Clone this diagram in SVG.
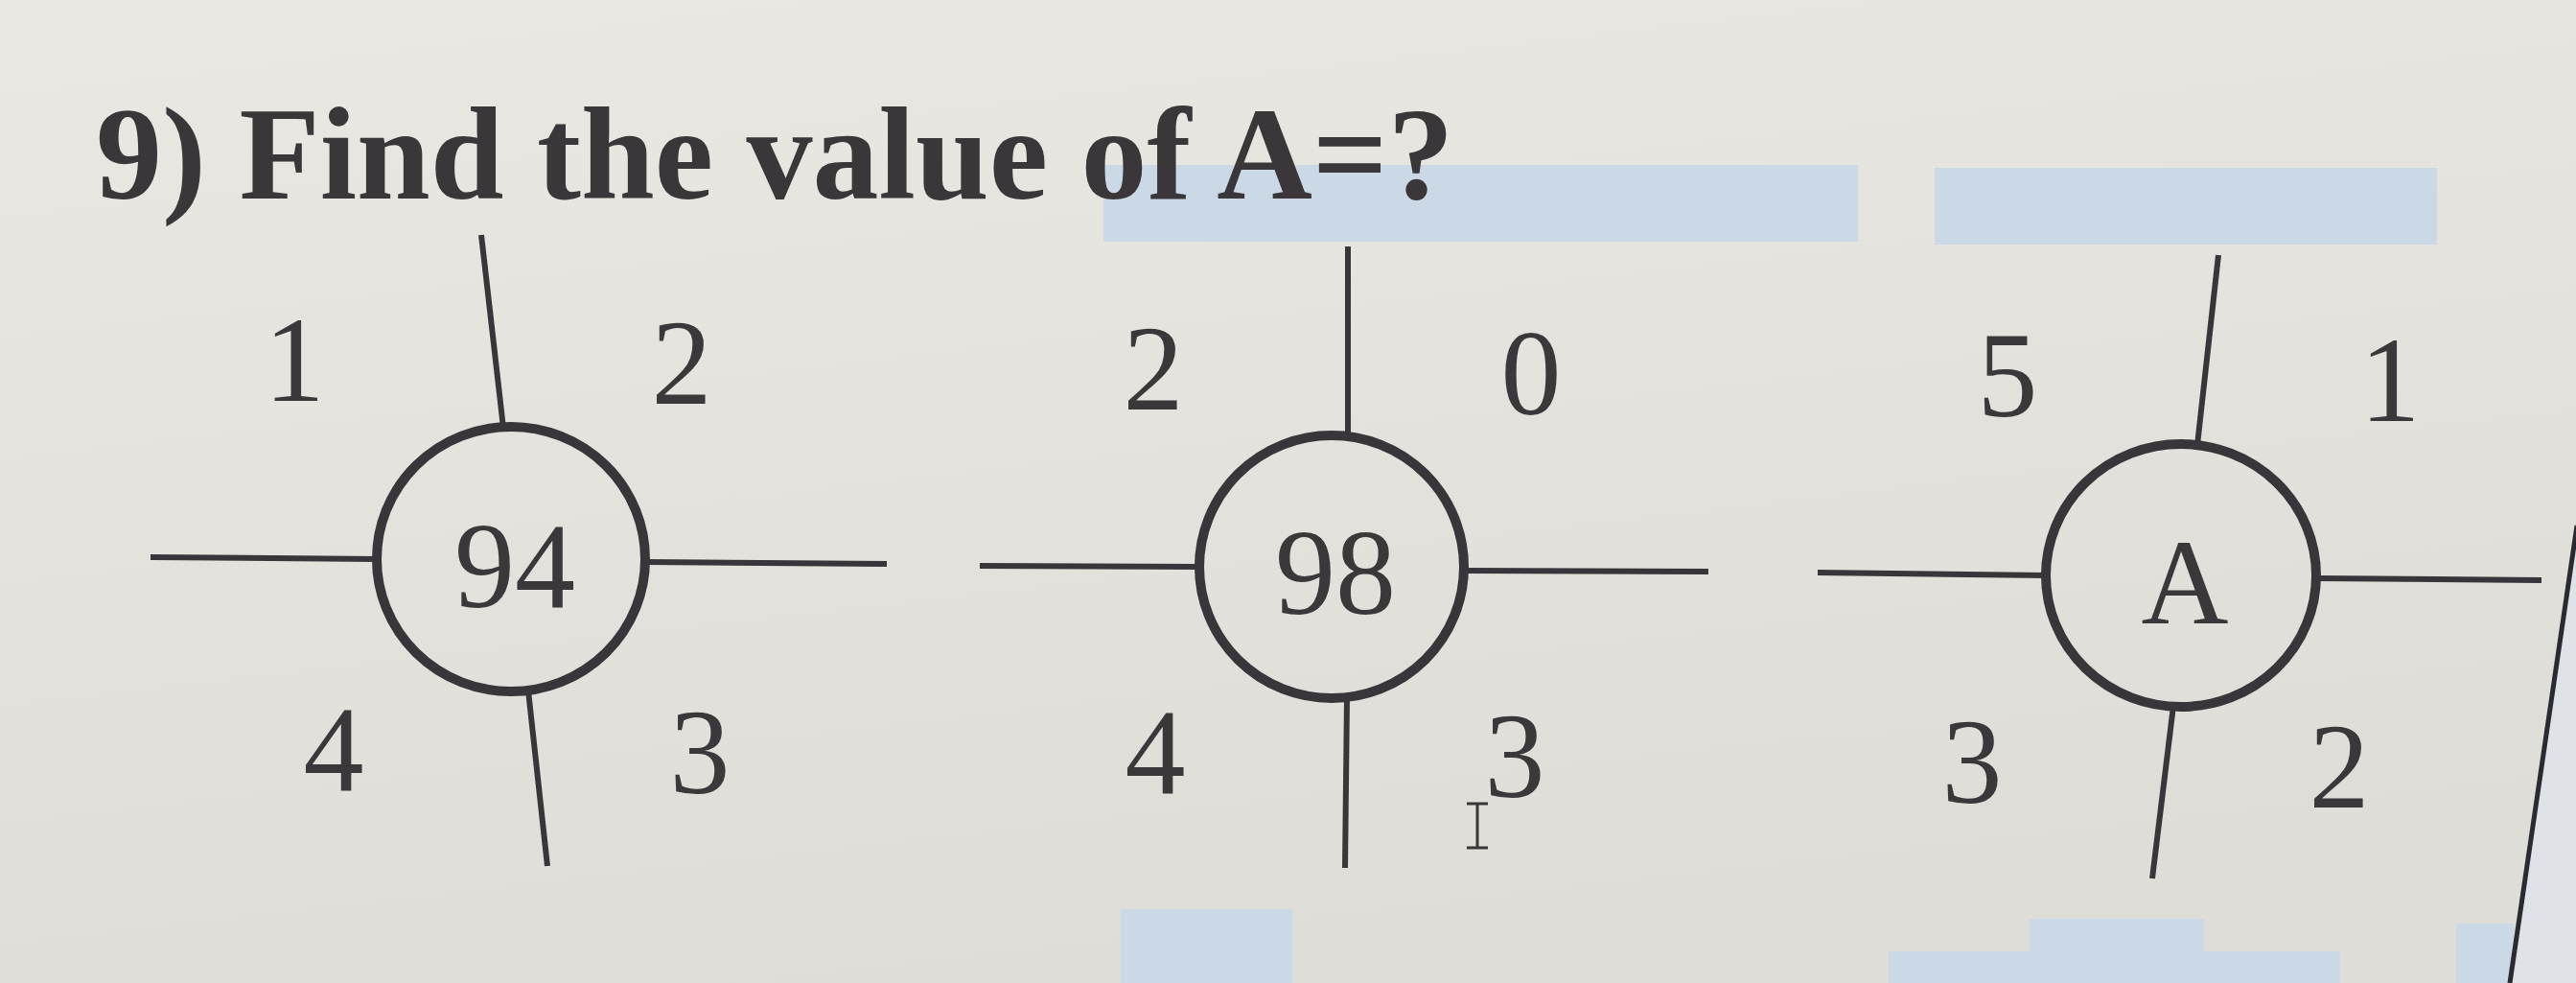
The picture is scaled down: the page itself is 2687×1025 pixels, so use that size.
<svg xmlns="http://www.w3.org/2000/svg" width="2687" height="1025" viewBox="0 0 2687 1025">
  <defs>
    <linearGradient id="bg" x1="0" y1="0" x2="0.3" y2="1">
      <stop offset="0" stop-color="#e9e8e3"/>
      <stop offset="1" stop-color="#dfddd7"/>
    </linearGradient>
    <style>
      .spoke { stroke: #39353a; stroke-width: 6; stroke-linecap: butt; fill: none; }
      .ring { stroke: #39353a; stroke-width: 10; fill: none; }
      .num { font-family: "Liberation Serif", "Times New Roman", serif; font-size: 126px; fill: #3b383b; text-anchor: middle; }
      .title { font-family: "Liberation Serif", "Times New Roman", serif; font-size: 138px; font-weight: bold; fill: #3a3639; }
      .hl { fill: #cbd8e6; }
    </style>
  </defs>

  <rect x="0" y="0" width="2687" height="1025" fill="url(#bg)"/>

  <!-- blue highlight blocks on the screen -->
  <g id="highlights">
    <rect class="hl" x="1151" y="172" width="787" height="80"/>
    <rect class="hl" x="2018" y="175" width="524" height="80"/>
    <rect class="hl" x="1169" y="948" width="179" height="77"/>
    <rect class="hl" x="1970" y="992" width="471" height="33"/>
    <rect class="hl" x="2117" y="958" width="182" height="67"/>
    <rect class="hl" x="2562" y="963" width="60" height="62"/>
    <polygon points="2687,555 2618,1025 2687,1025" fill="#dfe3e8"/>
    <line x1="2688" y1="548" x2="2618" y2="1025" stroke="#2a2a31" stroke-width="5"/>
  </g>

  <text class="title" x="100" y="207">9) Find the value of A=?</text>

  <g id="connectors">
    <!-- figure 1 -->
    <line class="spoke" x1="502" y1="245" x2="525" y2="446"/>
    <line class="spoke" x1="551" y1="720" x2="571" y2="903"/>
    <line class="spoke" x1="157" y1="581" x2="394" y2="583"/>
    <line class="spoke" x1="672" y1="586" x2="925" y2="588"/>
    <!-- figure 2 -->
    <line class="spoke" x1="1406" y1="257" x2="1406" y2="455"/>
    <line class="spoke" x1="1405" y1="727" x2="1403" y2="905"/>
    <line class="spoke" x1="1022" y1="590" x2="1252" y2="591"/>
    <line class="spoke" x1="1526" y1="595" x2="1782" y2="596"/>
    <!-- figure 3 -->
    <line class="spoke" x1="2314" y1="266" x2="2292" y2="464"/>
    <line class="spoke" x1="2267" y1="736" x2="2245" y2="916"/>
    <line class="spoke" x1="1896" y1="597" x2="2135" y2="600"/>
    <line class="spoke" x1="2415" y1="603" x2="2651" y2="605"/>
  </g>

  <g id="node-94">
    <ellipse class="ring" cx="533" cy="583" rx="140" ry="138"/>
    <text class="num" x="537" y="633">94</text>
    <text class="num" x="307" y="418">1</text>
    <text class="num" x="711" y="421">2</text>
    <text class="num" x="348" y="824">4</text>
    <text class="num" x="730" y="827">3</text>
  </g>

  <g id="node-98">
    <ellipse class="ring" cx="1389" cy="591" rx="138" ry="137"/>
    <text class="num" x="1393" y="640">98</text>
    <text class="num" x="1203" y="427">2</text>
    <text class="num" x="1597" y="432">0</text>
    <text class="num" x="1205" y="827">4</text>
    <text class="num" x="1580" y="831">3</text>
  </g>

  <g id="node-A">
    <ellipse class="ring" cx="2275" cy="600" rx="141" ry="137"/>
    <text class="num" x="2279" y="650">A</text>
    <text class="num" x="2094" y="434">5</text>
    <text class="num" x="2493" y="439">1</text>
    <text class="num" x="2057" y="837">3</text>
    <text class="num" x="2440" y="842">2</text>
  </g>

  <!-- text cursor (I-beam) -->
  <g id="cursor" stroke="#3a373a" stroke-width="3" fill="none">
    <line x1="1541" y1="838" x2="1541" y2="884"/>
    <line x1="1530" y1="838" x2="1552" y2="838"/>
    <line x1="1530" y1="884" x2="1552" y2="884"/>
  </g>
</svg>
